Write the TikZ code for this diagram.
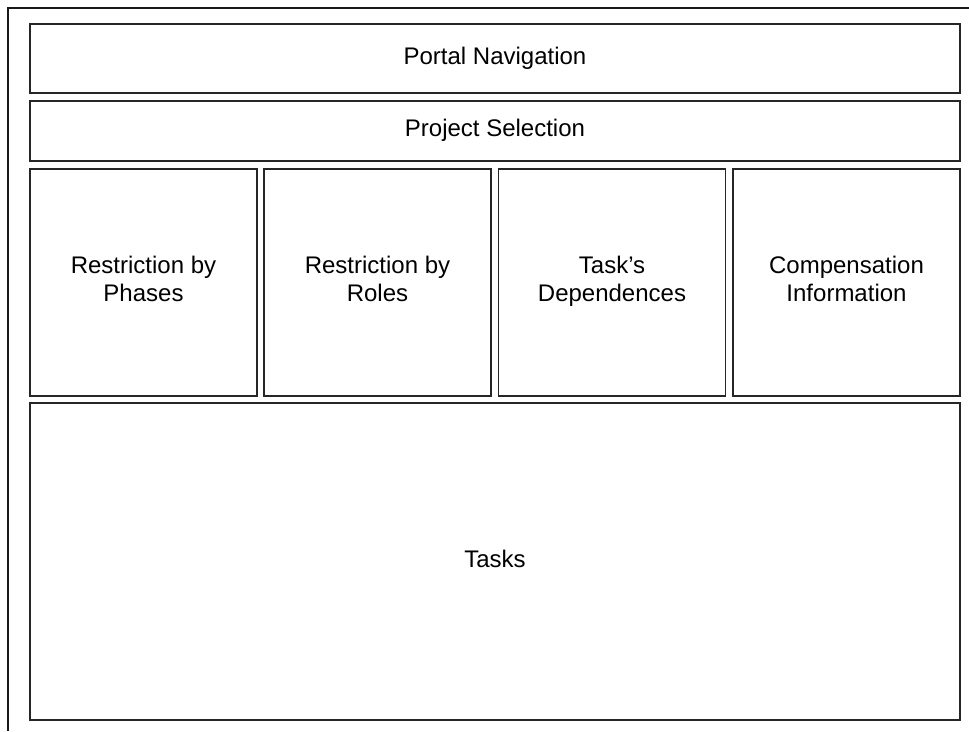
\documentclass[tikz,border=0pt]{standalone}
\usepackage{fontspec}
\setmainfont{Liberation Sans}
\usepackage{tikz}

\begin{document}
\begin{tikzpicture}[x=1pt, y=-1pt, line width=1.3pt,
    panel/.style={rectangle, draw=black!85, align=center, inner sep=0pt,
        font=\fontsize{24}{28}\selectfont,
        execute at begin node=\strut, execute at end node=\strut}]

        \useasboundingbox (0,0) rectangle (969,731);

        % Page frame (left and top edges)
        \draw[black!90] (8,731) -- (8,8) -- (969,8);

        % Header bars
        \node[panel, minimum width=930, minimum height=69] (portal) at (495,58.5) {Portal Navigation};
        \node[panel, minimum width=930, minimum height=60] (project) at (495,131) {Project Selection};

        % Filter panels
        \node[panel, minimum width=227, minimum height=227] (phases) at (143.5,282.5) {Restriction by\\Phases};
        \node[panel, minimum width=227, minimum height=227] (roles) at (377.5,282.5) {Restriction by\\Roles};
        \node[panel, minimum width=227, minimum height=227] (depend) at (612,282.5) {Task's\\Dependences};
        \node[panel, minimum width=227, minimum height=227] (compens) at (846.5,282.5) {Compensation\\Information};

        % Task list
        \node[panel, minimum width=930, minimum height=317] (tasks) at (495,561.5) {Tasks};

    \end{tikzpicture}
\end{document}
